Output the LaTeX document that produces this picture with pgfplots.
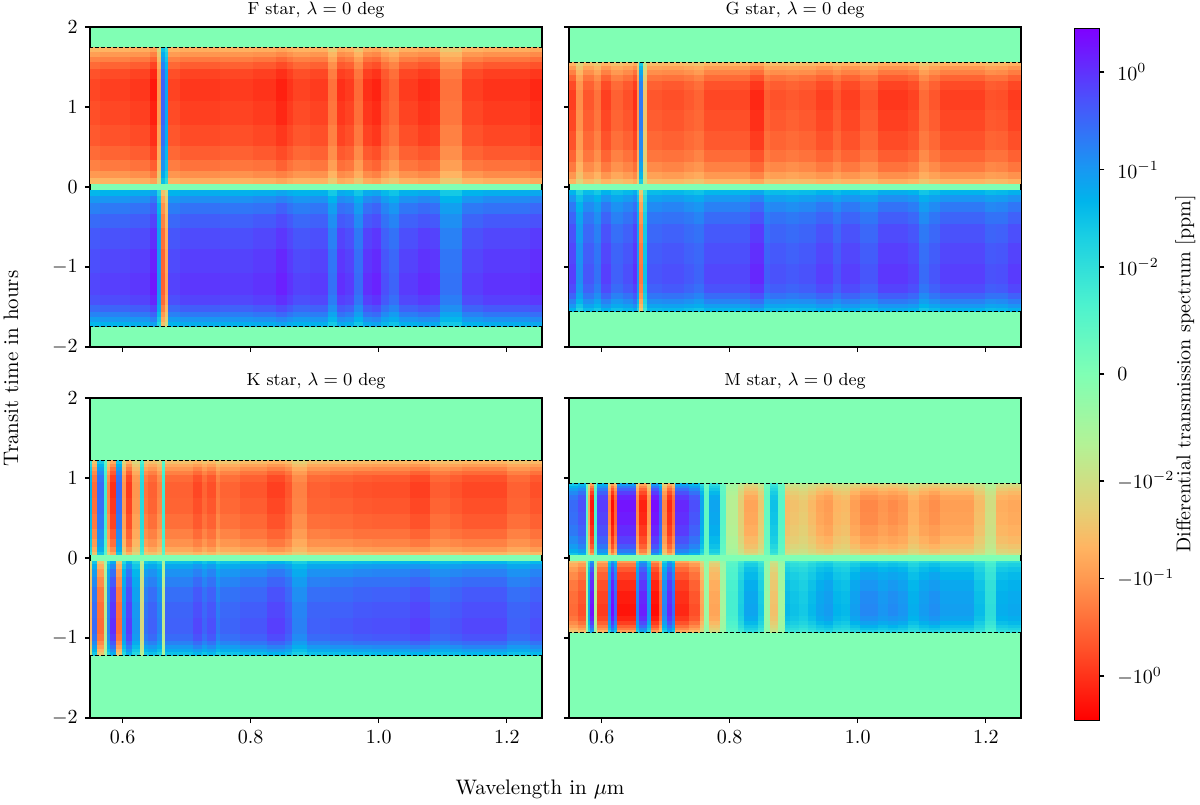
\documentclass[border=0pt]{standalone}
\usepackage{pgfplots}
\usepackage{pgfplotstable}
\pgfplotsset{compat=1.18}

% colour position: -100..100 along the colour bar (symlog ppm), 0 = no signal
% columns a..l: time bands from mid-transit (a) out to the limb (l)
\pgfplotstableread{
w a b c d e f g h i j k l
0.549 -49 -59 -66 -72 -77 -80 -82 -79 -72 -65 -57 -49
0.564 -50 -60 -68 -74 -79 -82 -84 -81 -74 -66 -59 -50
0.580 -50 -60 -68 -74 -79 -82 -84 -81 -74 -66 -59 -50
0.611 -52 -62 -70 -76 -81 -84 -86 -83 -76 -68 -60 -52
0.6425 -56 -68 -76 -83 -88 -92 -94 -90 -83 -74 -66 -56
0.654 -36 -43 -49 -53 -56 -59 -60 -58 -53 -47 -42 -36
0.6597 45 54 61 66 71 74 75 72 66 59 53 45
0.666 33 40 45 48 52 54 55 53 48 43 39 33
0.671 -50 -60 -67 -73 -78 -81 -83 -80 -73 -66 -58 -50
0.689 -52 -62 -70 -76 -81 -84 -86 -83 -76 -68 -60 -52
0.752 -51 -61 -69 -75 -80 -83 -85 -82 -75 -67 -60 -51
0.804 -52 -63 -70 -77 -82 -85 -87 -84 -77 -69 -61 -52
0.840 -55 -66 -75 -81 -86 -90 -92 -88 -81 -73 -64 -55
0.856 -52 -63 -70 -77 -82 -85 -87 -84 -77 -69 -61 -52
0.866 -50 -60 -67 -73 -78 -81 -83 -80 -73 -66 -58 -50
0.892 -51 -61 -69 -75 -80 -83 -85 -82 -75 -67 -60 -51
0.921 -42 -50 -57 -62 -66 -69 -70 -67 -62 -55 -49 -42
0.935 -53 -63 -71 -77 -83 -86 -88 -84 -77 -70 -62 -53
0.947 -51 -61 -69 -75 -80 -83 -85 -82 -75 -67 -60 -51
0.961 -43 -52 -58 -63 -68 -71 -72 -69 -63 -57 -50 -43
0.975 -53 -63 -71 -77 -83 -86 -88 -84 -77 -70 -62 -53
0.989 -55 -66 -74 -80 -86 -89 -91 -87 -80 -72 -64 -55
1.003 -48 -58 -65 -70 -75 -78 -80 -77 -70 -63 -56 -48
1.0165 -44 -53 -60 -65 -70 -73 -74 -71 -65 -58 -52 -44
1.032 -51 -61 -69 -75 -80 -83 -85 -82 -75 -67 -60 -51
1.062 -53 -64 -72 -78 -84 -87 -89 -85 -78 -70 -62 -53
1.080 -53 -63 -71 -77 -83 -86 -88 -84 -77 -70 -62 -53
1.095 -42 -50 -57 -62 -66 -69 -70 -67 -62 -55 -49 -42
1.130 -50 -60 -68 -74 -79 -82 -84 -81 -74 -66 -59 -50
1.163 -52 -63 -70 -77 -82 -85 -87 -84 -77 -69 -61 -52
1.236 -54 -65 -73 -79 -85 -88 -90 -86 -79 -71 -63 -54
1.255 -54 -65 -73 -79 -85 -88 -90 -86 -79 -71 -63 -54
}\tabF

\pgfplotstableread{
w a b c d e f g h i j k l
0.5486 -50 -60 -68 -74 -79 -82 -84 -81 -74 -66 -59 -50
0.560 -37 -45 -50 -55 -58 -61 -62 -60 -55 -49 -43 -37
0.5705 -47 -56 -63 -69 -73 -76 -78 -75 -69 -62 -55 -47
0.5887 -42 -50 -57 -62 -66 -69 -70 -67 -62 -55 -49 -42
0.599 -50 -60 -68 -74 -79 -82 -84 -81 -74 -66 -59 -50
0.615 -45 -54 -61 -66 -71 -74 -75 -72 -66 -59 -53 -45
0.633 -48 -58 -65 -70 -75 -78 -80 -77 -70 -63 -56 -48
0.6486 -53 -63 -71 -77 -83 -86 -88 -84 -77 -70 -62 -53
0.655 -36 -43 -49 -53 -56 -59 -60 -58 -53 -47 -42 -36
0.659 41 49 55 60 64 67 68 65 60 54 48 41
0.665 -27 -32 -36 -40 -42 -44 -45 -43 -40 -36 -32 -27
0.6705 -47 -56 -63 -69 -73 -76 -78 -75 -69 -62 -55 -47
0.695 -48 -58 -65 -70 -75 -78 -80 -77 -70 -63 -56 -48
0.729 -46 -55 -62 -68 -72 -75 -77 -74 -68 -61 -54 -46
0.745 -44 -53 -60 -65 -70 -73 -74 -71 -65 -58 -52 -44
0.7605 -49 -59 -66 -72 -77 -80 -82 -79 -72 -65 -57 -49
0.832 -54 -65 -73 -79 -85 -88 -90 -86 -79 -71 -63 -54
0.853 -46 -55 -62 -67 -71 -74 -76 -73 -67 -60 -53 -46
0.863 -47 -57 -64 -70 -74 -77 -79 -76 -70 -62 -55 -47
0.888 -46 -55 -62 -68 -72 -75 -77 -74 -68 -61 -54 -46
0.909 -47 -57 -64 -70 -74 -77 -79 -76 -70 -62 -55 -47
0.935 -50 -60 -68 -74 -79 -82 -84 -81 -74 -66 -59 -50
0.961 -47 -56 -63 -69 -73 -76 -78 -75 -69 -62 -55 -47
0.974 -50 -60 -68 -74 -79 -82 -84 -81 -74 -66 -59 -50
1.003 -47 -56 -63 -69 -73 -76 -78 -75 -69 -62 -55 -47
1.0314 -52 -62 -70 -76 -81 -84 -86 -83 -76 -68 -60 -52
1.078 -50 -60 -67 -73 -78 -81 -83 -80 -73 -66 -58 -50
1.0955 -43 -52 -58 -63 -68 -71 -72 -69 -63 -57 -50 -43
1.111 -47 -56 -63 -69 -73 -76 -78 -75 -69 -62 -55 -47
1.128 -50 -60 -68 -74 -79 -82 -84 -81 -74 -66 -59 -50
1.198 -47 -57 -64 -70 -74 -77 -79 -76 -70 -62 -55 -47
1.216 -48 -58 -65 -70 -75 -78 -80 -77 -70 -63 -56 -48
1.235 -51 -61 -69 -75 -80 -83 -85 -82 -75 -67 -60 -51
1.255 -51 -61 -69 -75 -80 -83 -85 -82 -75 -67 -60 -51
}\tabG

\pgfplotstableread{
w a b c d e f g h i j k l
0.549 30 36 41 44 47 49 50 48 44 40 35 30
0.552 -43 -52 -58 -63 -68 -71 -72 -69 -63 -57 -50 -43
0.5606 43 52 58 63 68 71 72 69 63 57 50 43
0.571 15 18 20 22 24 25 25 24 22 20 18 15
0.575 -39 -47 -53 -57 -61 -64 -65 -62 -57 -51 -46 -39
0.581 -53 -63 -71 -77 -83 -86 -88 -84 -77 -70 -62 -53
0.589 43 52 58 63 68 71 72 69 63 57 50 43
0.5986 -36 -43 -49 -53 -56 -59 -60 -58 -53 -47 -42 -36
0.605 -51 -61 -69 -75 -80 -83 -85 -82 -75 -67 -60 -51
0.614 -36 -43 -49 -53 -56 -59 -60 -58 -53 -47 -42 -36
0.627 21 25 28 31 33 34 35 34 31 28 25 21
0.6335 -42 -50 -57 -62 -66 -69 -70 -67 -62 -55 -49 -42
0.640 -45 -54 -61 -66 -71 -74 -75 -72 -66 -59 -53 -45
0.654 -39 -47 -53 -57 -61 -64 -65 -62 -57 -51 -46 -39
0.661 15 18 20 22 24 25 25 24 22 20 18 15
0.666 -45 -54 -61 -66 -71 -74 -75 -72 -66 -59 -53 -45
0.7106 -49 -59 -66 -72 -77 -80 -82 -79 -72 -65 -57 -49
0.7236 -44 -53 -60 -65 -70 -73 -74 -71 -65 -58 -52 -44
0.7314 -48 -58 -65 -70 -75 -78 -80 -77 -70 -63 -56 -48
0.746 -41 -49 -55 -60 -64 -67 -68 -65 -60 -54 -48 -41
0.752 -44 -53 -60 -65 -70 -73 -74 -71 -65 -58 -52 -44
0.7835 -47 -56 -63 -69 -73 -76 -78 -75 -69 -62 -55 -47
0.825 -50 -60 -68 -74 -79 -82 -84 -81 -74 -66 -59 -50
0.854 -47 -56 -63 -69 -73 -76 -78 -75 -69 -62 -55 -47
0.865 -40 -48 -53 -58 -62 -65 -66 -63 -58 -52 -46 -40
0.8877 -46 -55 -62 -67 -71 -74 -76 -73 -67 -60 -53 -46
0.8925 -45 -54 -61 -66 -71 -74 -75 -72 -66 -59 -53 -45
0.924 -46 -55 -62 -68 -72 -75 -77 -74 -68 -61 -54 -46
0.960 -47 -57 -64 -70 -74 -77 -79 -76 -70 -62 -55 -47
0.989 -48 -58 -65 -70 -75 -78 -80 -77 -70 -63 -56 -48
1.049 -50 -60 -68 -74 -79 -82 -84 -81 -74 -66 -59 -50
1.080 -46 -55 -62 -67 -71 -74 -76 -73 -67 -60 -53 -46
1.111 -47 -57 -64 -70 -74 -77 -79 -76 -70 -62 -55 -47
1.130 -49 -59 -66 -72 -77 -80 -82 -79 -72 -65 -57 -49
1.200 -45 -54 -61 -66 -71 -74 -75 -72 -66 -59 -53 -45
1.236 -48 -58 -65 -70 -75 -78 -80 -77 -70 -63 -56 -48
1.255 -48 -58 -65 -70 -75 -78 -80 -77 -70 -63 -56 -48
}\tabK

\pgfplotstableread{
w a b c d e f g h i j k l
0.5486 43 52 58 63 68 71 72 69 63 57 50 43
0.5626 48 58 65 70 75 78 80 77 70 63 56 48
0.5757 9 11 12 13 14 15 15 14 13 12 11 9
0.578 -33 -40 -45 -48 -52 -54 -55 -53 -48 -43 -39 -33
0.582 -57 -68 -77 -84 -89 -93 -95 -91 -84 -75 -67 -57
0.5887 12 14 16 18 19 20 20 19 18 16 14 12
0.592 51 61 69 75 80 83 85 82 75 67 60 51
0.6095 -39 -47 -53 -57 -61 -64 -65 -62 -57 -51 -46 -39
0.6147 -58 -70 -79 -85 -91 -95 -97 -93 -85 -77 -68 -58
0.620 -45 -54 -61 -66 -71 -74 -75 -72 -66 -59 -53 -45
0.6236 57 68 77 84 89 93 95 91 84 75 67 57
0.6538 -39 -47 -53 -57 -61 -64 -65 -62 -57 -51 -46 -39
0.659 -55 -66 -75 -81 -86 -90 -92 -88 -81 -73 -64 -55
0.6705 -36 -43 -49 -53 -56 -59 -60 -58 -53 -47 -42 -36
0.677 58 70 79 85 91 95 97 93 85 77 68 58
0.689 45 54 61 66 71 74 75 72 66 59 53 45
0.695 -39 -47 -53 -57 -61 -64 -65 -62 -57 -51 -46 -39
0.7017 -54 -65 -73 -79 -85 -88 -90 -86 -79 -71 -63 -54
0.710 -43 -52 -58 -63 -68 -71 -72 -69 -63 -57 -50 -43
0.715 54 65 73 79 85 88 90 86 79 71 63 54
0.737 48 58 65 70 75 78 80 77 70 63 56 48
0.753 33 40 45 48 52 54 55 53 48 43 39 33
0.7605 7 9 10 11 11 12 12 12 11 9 8 7
0.768 33 40 45 48 52 54 55 53 48 43 39 33
0.785 9 11 12 13 14 15 15 14 13 12 11 9
0.794 -13 -16 -18 -19 -21 -22 -22 -21 -19 -17 -15 -13
0.8126 -24 -29 -32 -35 -38 -39 -40 -38 -35 -32 -28 -24
0.823 -33 -40 -45 -48 -52 -54 -55 -53 -48 -43 -39 -33
0.844 -25 -30 -34 -37 -39 -41 -42 -40 -37 -33 -29 -25
0.853 6 7 8 9 9 10 10 10 9 8 7 6
0.863 27 32 36 40 42 44 45 43 40 36 32 27
0.875 9 11 12 13 14 15 15 14 13 12 11 9
0.8856 -29 -35 -39 -42 -45 -47 -48 -46 -42 -38 -34 -29
0.8934 -27 -32 -36 -40 -42 -44 -45 -43 -40 -36 -32 -27
0.909 -25 -30 -34 -37 -39 -41 -42 -40 -37 -33 -29 -25
0.922 -29 -35 -39 -42 -45 -47 -48 -46 -42 -38 -34 -29
0.935 -33 -40 -45 -48 -52 -54 -55 -53 -48 -43 -39 -33
0.948 -35 -42 -47 -51 -55 -57 -58 -56 -51 -46 -41 -35
0.961 -30 -36 -41 -44 -47 -49 -50 -48 -44 -40 -35 -30
0.974 -29 -35 -39 -42 -45 -47 -48 -46 -42 -38 -34 -29
0.988 -34 -41 -46 -50 -54 -56 -57 -55 -50 -45 -40 -34
1.003 -38 -46 -52 -56 -60 -63 -64 -61 -56 -51 -45 -38
1.0314 -36 -43 -49 -53 -56 -59 -60 -58 -53 -47 -42 -36
1.047 -38 -45 -51 -55 -59 -62 -63 -60 -55 -50 -44 -38
1.063 -36 -43 -49 -53 -56 -59 -60 -58 -53 -47 -42 -36
1.078 -31 -37 -42 -46 -49 -51 -52 -50 -46 -41 -36 -31
1.0955 -35 -42 -47 -51 -55 -57 -58 -56 -51 -46 -41 -35
1.111 -37 -45 -50 -55 -58 -61 -62 -60 -55 -49 -43 -37
1.128 -34 -41 -46 -50 -54 -56 -57 -55 -50 -45 -40 -34
1.181 -28 -34 -38 -41 -44 -46 -47 -45 -41 -37 -33 -28
1.198 -19 -23 -26 -28 -30 -31 -32 -31 -28 -25 -22 -19
1.216 -31 -37 -42 -46 -49 -51 -52 -50 -46 -41 -36 -31
1.235 -32 -39 -44 -48 -51 -53 -54 -52 -48 -43 -38 -32
1.255 -32 -39 -44 -48 -51 -53 -54 -52 -48 -43 -38 -32
}\tabM

% one time band, before (-) and after (+) mid-transit, as a thick coloured line
\newcommand{\band}[4]{%
  \addplot[mesh,shader=flat corner,no markers,line width={(#4-#3)*40+0.4},
    point meta=\thisrow{#2}] table[x=w,y expr={(#3+#4)/2}]{#1};
  \addplot[mesh,shader=flat corner,no markers,line width={(#4-#3)*40+0.4},
    point meta={-\thisrow{#2}}] table[x=w,y expr={-(#3+#4)/2}]{#1};
}
\newcommand{\limb}[1]{%
  \addplot[black,dashed,line width=0.5pt,dash pattern=on 2pt off 1pt] coordinates {(0.5,#1) (1.3,#1)};
  \addplot[black,dashed,line width=0.5pt,dash pattern=on 2pt off 1pt] coordinates {(0.5,-#1) (1.3,-#1)};
}

\definecolor{nosignal}{rgb}{0.5,1,0.707}
\pgfplotsset{
  panel/.style={
    scale only axis, width=226pt, height=160pt,
    xmin=0.549, xmax=1.255, ymin=-2, ymax=2,
    xtick={0.6,0.8,1.0,1.2}, ytick={-2,-1,0,1,2},
    tick pos=left, tick align=outside,
    major tick length=2.6pt,
    every tick/.style={black,line width=0.6pt},
    axis line style={line width=0.6pt},
    xticklabel style={/pgf/number format/fixed,/pgf/number format/fixed zerofill,/pgf/number format/precision=1},
    axis background/.style={fill=nosignal},
    title style={font=\fontsize{8.75}{10}\selectfont,yshift=-5pt},
    anchor=south west,
    point meta min=-100, point meta max=100,
    colormap={rbw}{rgb(0pt)=(1,0,0) rgb(10pt)=(1,.309,.156) rgb(20pt)=(1,.588,.309)
      rgb(25pt)=(1,.707,.383) rgb(30pt)=(.9,.809,.454) rgb(40pt)=(.7,.951,.588)
      rgb(50pt)=(.5,1,.707) rgb(60pt)=(.3,.951,.809) rgb(70pt)=(.1,.809,.891)
      rgb(75pt)=(0,.707,.924) rgb(80pt)=(.1,.588,.951) rgb(90pt)=(.3,.309,.988)
      rgb(100pt)=(.5,0,1)},
  },
}

\begin{document}
\begin{tikzpicture}
\path[use as bounding box] (0,0) rectangle (600pt,402pt);

\begin{axis}[panel, at={(45pt,228.5pt)}, title={F star, $\lambda = 0$ deg}, xticklabels={}]
\band{\tabF}{a}{0.045}{0.122}
\band{\tabF}{b}{0.122}{0.209}
\band{\tabF}{c}{0.209}{0.348}
\band{\tabF}{d}{0.348}{0.522}
\band{\tabF}{e}{0.522}{0.783}
\band{\tabF}{f}{0.783}{1.079}
\band{\tabF}{g}{1.079}{1.357}
\band{\tabF}{h}{1.357}{1.479}
\band{\tabF}{i}{1.479}{1.566}
\band{\tabF}{j}{1.566}{1.636}
\band{\tabF}{k}{1.636}{1.688}
\band{\tabF}{l}{1.688}{1.74}
\limb{1.74}
\end{axis}

\begin{axis}[panel, at={(284.5pt,228.5pt)}, title={G star, $\lambda = 0$ deg}, xticklabels={}, yticklabels={},
  colorbar,
  colorbar style={
    at={(parent axis.north east)}, anchor=north west, xshift=18pt, yshift=-0.5pt,
    scale only axis, width=12.5pt, height=346pt,
    ytick={-87.3,-59,-30.9,0,30.9,59,87.3},
    yticklabels={$-10^{0}$,$-10^{-1}$,$-10^{-2}$,$0$,$10^{-2}$,$10^{-1}$,$10^{0}$},
    ytick pos=right, yticklabel pos=right, tick align=outside,
    yticklabel style={xshift=3pt},
    major tick length=2.6pt,
    ylabel={Differential transmission spectrum [ppm]},
    every axis y label/.style={at={(axis description cs:4.45,0.5)},rotate=90,anchor=center,font=\fontsize{10}{12}\selectfont},
  }]
\band{\tabG}{a}{0.045}{0.109}
\band{\tabG}{b}{0.109}{0.187}
\band{\tabG}{c}{0.187}{0.312}
\band{\tabG}{d}{0.312}{0.468}
\band{\tabG}{e}{0.468}{0.702}
\band{\tabG}{f}{0.702}{0.967}
\band{\tabG}{g}{0.967}{1.217}
\band{\tabG}{h}{1.217}{1.326}
\band{\tabG}{i}{1.326}{1.404}
\band{\tabG}{j}{1.404}{1.466}
\band{\tabG}{k}{1.466}{1.513}
\band{\tabG}{l}{1.513}{1.56}
\limb{1.56}
\end{axis}

\begin{axis}[panel, at={(45pt,43pt)}, title={K star, $\lambda = 0$ deg}]
\band{\tabK}{a}{0.045}{0.085}
\band{\tabK}{b}{0.085}{0.146}
\band{\tabK}{c}{0.146}{0.244}
\band{\tabK}{d}{0.244}{0.366}
\band{\tabK}{e}{0.366}{0.549}
\band{\tabK}{f}{0.549}{0.756}
\band{\tabK}{g}{0.756}{0.952}
\band{\tabK}{h}{0.952}{1.037}
\band{\tabK}{i}{1.037}{1.098}
\band{\tabK}{j}{1.098}{1.147}
\band{\tabK}{k}{1.147}{1.183}
\band{\tabK}{l}{1.183}{1.22}
\limb{1.22}
\end{axis}

\begin{axis}[panel, at={(284.5pt,43pt)}, title={M star, $\lambda = 0$ deg}, yticklabels={}]
\band{\tabM}{a}{0.045}{0.065}
\band{\tabM}{b}{0.065}{0.112}
\band{\tabM}{c}{0.112}{0.186}
\band{\tabM}{d}{0.186}{0.279}
\band{\tabM}{e}{0.279}{0.419}
\band{\tabM}{f}{0.419}{0.577}
\band{\tabM}{g}{0.577}{0.725}
\band{\tabM}{h}{0.725}{0.791}
\band{\tabM}{i}{0.791}{0.837}
\band{\tabM}{j}{0.837}{0.874}
\band{\tabM}{k}{0.874}{0.902}
\band{\tabM}{l}{0.902}{0.93}
\limb{0.93}
\end{axis}

\node[rotate=90,font=\fontsize{10.5}{12}\selectfont] at (5.5pt,217.75pt) {Transit time in hours};
\node[font=\fontsize{10.5}{12}\selectfont] at (270pt,7.5pt) {Wavelength in $\mu$m};
\end{tikzpicture}
\end{document}
